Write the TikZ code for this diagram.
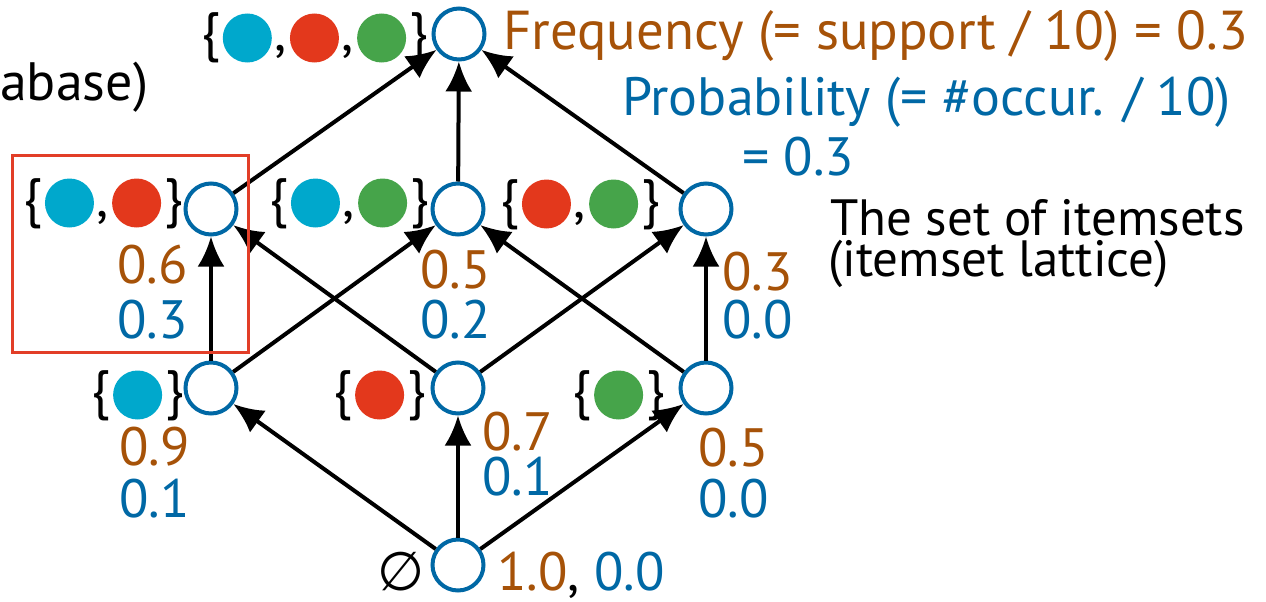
\documentclass[tikz,border=0pt]{standalone}
\usepackage{fontspec}
\setmainfont{PT Sans}
\newfontfamily\symfont{DejaVu Sans}
\usetikzlibrary{arrows.meta,positioning}

\definecolor{nodeblue}{RGB}{0,104,165}
\definecolor{freqbrown}{RGB}{166,82,8}
\definecolor{probblue}{RGB}{0,104,165}
\definecolor{itemcyan}{RGB}{0,168,204}
\definecolor{itemred}{RGB}{227,56,28}
\definecolor{itemgreen}{RGB}{70,164,74}
\definecolor{boxred}{RGB}{226,62,40}

% coloured item dot
\newcommand{\idot}[1]{\kern3pt\tikz[baseline=-13pt]\fill[#1] (0,0) circle (24.5pt);\kern3pt}

\begin{document}
\begin{tikzpicture}[
  x=1pt, y=-1pt,
  state/.style={circle, draw=nodeblue, line width=4pt, minimum size=51pt, inner sep=0pt},
  arr/.style={-{Latex[length=30pt, width=27pt]}, line width=4pt},
  lbl/.style={inner sep=0pt, font=\fontsize{54}{54}\selectfont},
  fq/.style={lbl, text=freqbrown},
  pb/.style={lbl, text=probblue}
]
\useasboundingbox (0,0) rectangle (1266,602);

% itemset lattice
\node[state] (abc)   at (459,34)  {};
\node[state] (ab)    at (211,209) {};
\node[state] (ac)    at (458,209) {};
\node[state] (bc)    at (706,209) {};
\node[state] (a)     at (211,388) {};
\node[state] (b)     at (458,388) {};
\node[state] (c)     at (706,388) {};
\node[state] (empty) at (458,565) {};

\draw[arr] (empty) -- (a);
\draw[arr] (empty) -- (b);
\draw[arr] (empty) -- (c);
\draw[arr] (a) -- (ab);
\draw[arr] (a) -- (ac);
\draw[arr] (b) -- (ab);
\draw[arr] (b) -- (bc);
\draw[arr] (c) -- (ac);
\draw[arr] (c) -- (bc);
\draw[arr] (ab) -- (abc);
\draw[arr] (ac) -- (abc);
\draw[arr] (bc) -- (abc);

% itemsets
\node[lbl, anchor=base east] (abc-set) at (428,51)  {\{\idot{itemcyan},\idot{itemred},\idot{itemgreen}\}};
\node[lbl, anchor=base east] (ab-set)  at (183,216) {\{\idot{itemcyan},\idot{itemred}\}};
\node[lbl, anchor=base east] (ac-set)  at (429,216) {\{\idot{itemcyan},\idot{itemgreen}\}};
\node[lbl, anchor=base east] (bc-set)  at (660,217) {\{\idot{itemred},\idot{itemgreen}\}};
\node[lbl, anchor=base east] (a-set)   at (184,408) {\{\idot{itemcyan}\}};
\node[lbl, anchor=base east] (b-set)   at (426,408) {\{\idot{itemred}\}};
\node[lbl, anchor=base east] (c-set)   at (665,408) {\{\idot{itemgreen}\}};
\node[lbl, anchor=base east] (empty-set) at (425,590) {{\symfont ∅}};

% frequency / probability values
\node[fq, anchor=base east] (ab-fq) at (188,283) {0.6};
\node[pb, anchor=base east] (ab-pb) at (188,338) {0.3};
\node[fq, anchor=base west] (ac-fq) at (420,288) {0.5};
\node[pb, anchor=base west] (ac-pb) at (420,338) {0.2};
\node[fq, anchor=base west] (bc-fq) at (722,290) {0.3};
\node[pb, anchor=base west] (bc-pb) at (722,338) {0.0};
\node[fq, anchor=base east] (a-fq) at (190,465) {0.9};
\node[pb, anchor=base east] (a-pb) at (190,517) {0.1};
\node[fq, anchor=base west] (b-fq) at (482,450) {0.7};
\node[pb, anchor=base west] (b-pb) at (482,495) {0.1};
\node[fq, anchor=base west] (c-fq) at (698,466) {0.5};
\node[pb, anchor=base west] (c-pb) at (698,517) {0.0};
\node[lbl, anchor=base west] (empty-val) at (497,590) {\textcolor{freqbrown}{1.0}, \textcolor{probblue}{0.0}};

% legend texts
\node[fq, anchor=base west, font=\fontsize{54.8}{55}\selectfont] (freq) at (503,50) {Frequency (= support / 10) = 0.3};
\node[pb, anchor=base west] (prob) at (622,115) {Probability (= \#occur. / 10)};
\node[pb, anchor=base west] (prob2) at (742,175) {= 0.3};
\node[lbl, anchor=base west, font=\fontsize{51}{51}\selectfont] (lat1) at (830,235) {The set of itemsets};
\node[lbl, anchor=base west, font=\fontsize{51}{51}\selectfont] (lat2) at (828,276) {(itemset lattice)};
\node[lbl, anchor=base west] (db) at (0,100) {abase)};

% highlighted itemset
\draw[boxred, line width=3pt] (12,155) rectangle (248,352);
\end{tikzpicture}
\end{document}
